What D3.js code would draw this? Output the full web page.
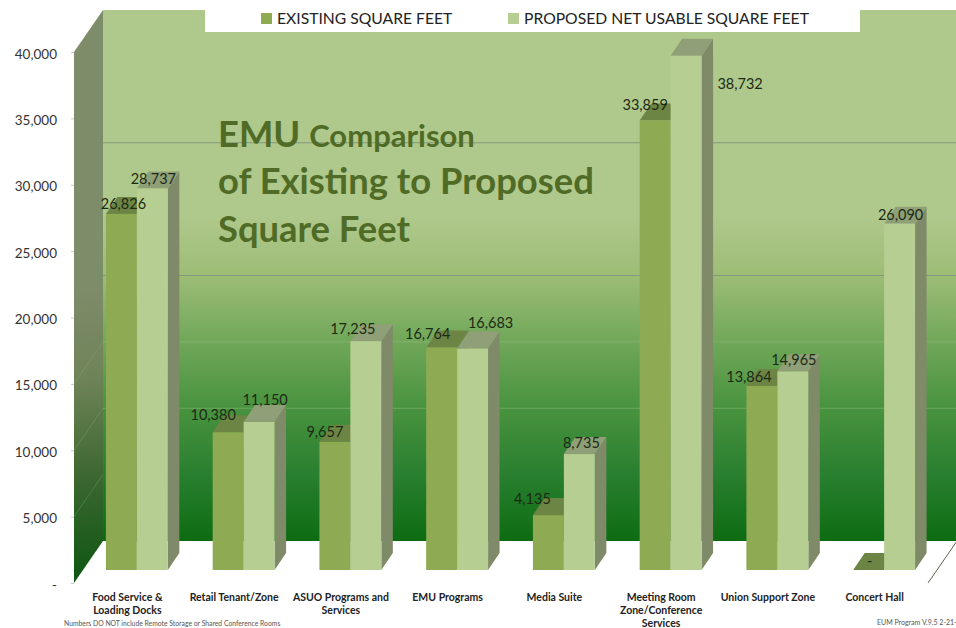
<!DOCTYPE html>
<html>
<head>
<meta charset="utf-8">
<script src="https://cdn.jsdelivr.net/npm/d3@7"></script>
<style>
  html, body { margin: 0; padding: 0; background: #fff; }
  svg { display: block; }
  text { font-family: Lato, sans-serif; }
</style>
</head>
<body>
<div class="canvas"></div>
<script>
// Data

const categories = [
  "Food Service &|Loading Docks",
  "Retail Tenant/Zone",
  "ASUO Programs and|Services",
  "EMU Programs",
  "Media Suite",
  "Meeting Room|Zone/Conference|Services",
  "Union Support Zone",
  "Concert Hall"
];
const existing = [26826, 10380, 9657, 16764, 4135, 33859, 13864, 0];
const proposed = [28737, 11150, 17235, 16683, 8735, 38732, 14965, 26090];
const seriesNames = ["EXISTING SQUARE FEET", "PROPOSED NET USABLE SQUARE FEET"];
const yTicks = [0, 5000, 10000, 15000, 20000, 25000, 30000, 35000, 40000];
const strongGrid = [30000, 20000];
const faintGrid = [15000, 10000];

// Set dimensions

const width = 956;
const height = 628;

// 3d offsets: full floor depth, where the bars stand on it, depth of one bar
const floorDx = 29, floorDy = 42;
const barDx = 9.5, barDy = 13;
const boxDx = 11.5, boxDy = 17;

// Set up scales

const x = d3.scaleBand()
    .domain(d3.range(categories.length))
    .range([74, 928])
    .paddingInner(0.42)
    .paddingOuter(0.21);

const xSeries = d3.scaleBand()
    .domain([0, 1])
    .range([0, x.bandwidth()]);

const y = d3.scaleLinear()
    .domain([0, 40000])
    .range([583, 52]);

const fmt = v => v === 0 ? "-" : d3.format(",")(v);

const svg = d3.select(".canvas")
    .append("svg")
    .attr("width", width)
    .attr("height", height);

// Gradients for the walls

const defs = svg.append("defs");

const backGrad = defs.append("linearGradient")
    .attr("id", "backWall")
    .attr("gradientUnits", "userSpaceOnUse")
    .attr("x1", 0).attr("x2", 0)
    .attr("y1", y(40000) - floorDy).attr("y2", y(0) - floorDy);
[[0, "#afc88b"], [0.39, "#afc88b"], [0.5, "#9dbd76"], [0.62, "#72a85a"],
 [0.74, "#4b9440"], [0.87, "#2a8030"], [1, "#0d6c12"]].forEach(s => {
    backGrad.append("stop").attr("offset", s[0]).attr("stop-color", s[1]);
});

const sideGrad = defs.append("linearGradient")
    .attr("id", "sideWall")
    .attr("gradientUnits", "userSpaceOnUse")
    .attr("x1", 74).attr("x2", 103)
    .attr("y1", y(22000)).attr("y2", y(0));
[[0, "#7d8c69"], [0.3, "#6f8358"], [0.65, "#3a6630"], [1, "#0c5610"]].forEach(s => {
    sideGrad.append("stop").attr("offset", s[0]).attr("stop-color", s[1]);
});

// Back wall and left wall

const wallLeft = x.range()[0], wallRight = x.range()[1];

svg.append("rect")
    .attr("x", wallLeft + floorDx)
    .attr("y", y(40000) - floorDy)
    .attr("width", wallRight - wallLeft)
    .attr("height", y(0) - y(40000))
    .attr("fill", "url(#backWall)");

svg.append("path")
    .attr("fill", "url(#sideWall)")
    .attr("d", d3.line()([
        [wallLeft, y(40000)],
        [wallLeft + floorDx, y(40000) - floorDy],
        [wallLeft + floorDx, y(0) - floorDy],
        [wallLeft, y(0)]
    ]));

// Horizontal grid lines on the back wall

svg.selectAll(".grid-strong")
    .data(strongGrid)
    .join("line")
    .attr("class", "grid-strong")
    .attr("x1", wallLeft + floorDx)
    .attr("x2", wallRight + floorDx)
    .attr("y1", d => y(d) - floorDy)
    .attr("y2", d => y(d) - floorDy)
    .attr("stroke", "#84997a")
    .attr("stroke-width", 1);

svg.selectAll(".grid-faint")
    .data(faintGrid)
    .join("line")
    .attr("class", "grid-faint")
    .attr("x1", wallLeft + floorDx)
    .attr("x2", wallRight + floorDx)
    .attr("y1", d => y(d) - floorDy)
    .attr("y2", d => y(d) - floorDy)
    .attr("stroke", "#9cc08c")
    .attr("stroke-opacity", 0.45)
    .attr("stroke-width", 1);

// Grid lines carried across the left wall
svg.selectAll(".grid-side")
    .data(faintGrid.concat([5000]))
    .join("line")
    .attr("class", "grid-side")
    .attr("x1", wallLeft)
    .attr("x2", wallLeft + floorDx)
    .attr("y1", d => y(d))
    .attr("y2", d => y(d) - floorDy)
    .attr("stroke", "#9cc08c")
    .attr("stroke-opacity", 0.25);

// Right edge of the floor
svg.append("line")
    .attr("x1", wallRight)
    .attr("y1", y(0))
    .attr("x2", wallRight + floorDx)
    .attr("y2", y(0) - floorDy)
    .attr("stroke", "#5a6650")
    .attr("stroke-width", 1);

// Legend strip sits over the top of the wall

svg.append("rect")
    .attr("x", 205)
    .attr("y", 0)
    .attr("width", 655)
    .attr("height", 32)
    .attr("fill", "#fff");

const legendColors = ["#8eaa52", "#b7ce92"];
const legendX = [261, 508];

seriesNames.forEach((name, i) => {
    svg.append("rect")
        .attr("x", legendX[i])
        .attr("y", 13)
        .attr("width", 11)
        .attr("height", 11)
        .attr("fill", legendColors[i]);
    svg.append("text")
        .attr("x", legendX[i] + 16)
        .attr("y", 24)
        .style("font-size", "15.7px")
        .attr("fill", "#222")
        .text(name);
});

// Chart title

const title = svg.append("g").attr("fill", "#4f6b26").style("font-weight", "bold");

const titleTop = title.append("text").attr("x", 218).attr("y", 147);
titleTop.append("tspan").style("font-size", "36.4px").text("EMU ");
titleTop.append("tspan").style("font-size", "31px").text("Comparison");

title.append("text").attr("x", 218).attr("y", 194)
    .style("font-size", "36.4px")
    .text("of Existing to Proposed");

title.append("text").attr("x", 218).attr("y", 242)
    .style("font-size", "36.4px")
    .text("Square Feet");

// Bars: one 3d box per value, drawn through the scales

function drawBox(g, i, s, v, front, top, side) {
    const x0 = x(i) + xSeries(s) + barDx;
    const x1 = x0 + xSeries.bandwidth();
    const yt = y(v) - barDy;
    const yb = y(0) - barDy;

    g.append("path")
        .attr("fill", side)
        .attr("d", d3.line()([[x1, yt], [x1 + boxDx, yt - boxDy], [x1 + boxDx, yb - boxDy], [x1, yb]]));
    g.append("path")
        .attr("fill", top)
        .attr("d", d3.line()([[x0, yt], [x0 + boxDx, yt - boxDy], [x1 + boxDx, yt - boxDy], [x1, yt]]));
    g.append("rect")
        .attr("x", x0)
        .attr("y", yt)
        .attr("width", x1 - x0)
        .attr("height", yb - yt)
        .attr("fill", front);
}

const bars = svg.append("g");

categories.forEach((c, i) => {
    drawBox(bars, i, 0, existing[i], "#8eaa52", "#6d8544", "#6d8544");
    drawBox(bars, i, 1, proposed[i], "#b7ce92", "#8f9f77", "#7f8a68");
});

// Value labels, hand nudged like the original (dx, dy from the bar's top centre)

const existingNudge = [[2, -10], [-15, -17], [-10, -10], [-14, -14], [-16, -16], [-10, -16], [-13, -9], [1, -9]];
const proposedNudge = [[1, -10], [6, -22], [-13, -12], [18, -26], [2, -11], [54, 28], [1, -11], [1, -9]];

function drawLabels(values, s, nudge) {
    svg.append("g")
        .selectAll("text")
        .data(values)
        .join("text")
        .attr("x", (d, i) => x(i) + xSeries(s) + xSeries.bandwidth() / 2 + barDx + nudge[i][0])
        .attr("y", (d, i) => y(d) - barDy + nudge[i][1])
        .attr("dy", "0.35em")
        .attr("text-anchor", "middle")
        .attr("fill", "#1c2a14")
        .style("font-size", "14.5px")
        .text(fmt);
}

drawLabels(existing, 0, existingNudge);
drawLabels(proposed, 1, proposedNudge);

// y axis

const yAxis = svg.append("g")
    .attr("transform", `translate(${wallLeft}, 0)`)
    .call(d3.axisLeft(y)
        .tickValues(yTicks)
        .tickFormat(fmt)
        .tickSize(3)
        .tickPadding(14));
yAxis.select(".domain").remove();
yAxis.selectAll(".tick line").attr("stroke", "#c8c8c8");
yAxis.selectAll(".tick text")
    .attr("fill", "#333")
    .attr("dy", "0.45em")
    .style("font-family", "Lato, sans-serif")
    .style("font-size", "13.5px");

// x axis labels, split on | into lines

const xAxis = svg.append("g")
    .attr("transform", `translate(0, ${y(0)})`)
    .call(d3.axisBottom(x)
        .tickSize(0)
        .tickFormat(i => ""));
xAxis.select(".domain").remove();

xAxis.selectAll(".tick text")
    .style("font-family", "Lato, sans-serif")
    .style("font-size", "10.5px")
    .style("font-weight", "bold")
    .attr("fill", "#222")
    .attr("y", 18)
    .attr("dy", 0)
    .each(function(i) {
        const t = d3.select(this);
        categories[i].split("|").forEach((line, n) => {
            t.append("tspan")
                .attr("x", 0)
                .attr("y", 18 + n * 13)
                .text(line);
        });
    });

// Footnotes

svg.append("text")
    .attr("x", 64)
    .attr("y", 626)
    .attr("fill", "#555")
    .style("font-size", "6.8px")
    .text("Numbers DO NOT include Remote Storage or Shared Conference Rooms");

svg.append("text")
    .attr("x", 877)
    .attr("y", 625)
    .attr("fill", "#555")
    .style("font-size", "7px")
    .text("EUM Program V.9.5  2-21-");
</script>
</body>
</html>
